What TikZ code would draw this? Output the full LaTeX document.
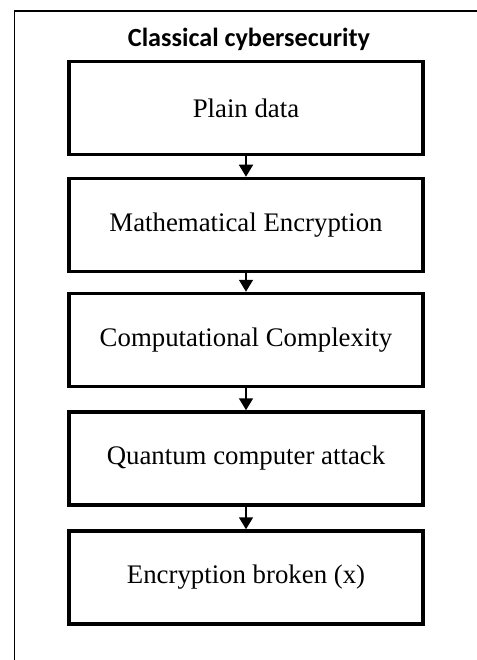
\documentclass[tikz,border=0pt]{standalone}
\usepackage{fontspec}
\setmainfont{Liberation Serif}
\newfontfamily\headfont{Carlito}
\usetikzlibrary{arrows.meta}

\begin{document}
\begin{tikzpicture}[x=1pt,y=-1pt,
  stepbox/.style={draw, line width=3.5pt, minimum width=354pt, minimum height=93pt,
    inner sep=0pt, font=\fontsize{26.8}{30}\selectfont},
  flow/.style={line width=1.6pt, -{Triangle[width=14pt,length=12pt]}}]
  \useasboundingbox (0,0) rectangle (476,660);
  % outer frame, running past the right and lower edges
  \draw[line width=1.8pt] (14.5,661) -- (14.5,11) -- (477,11);
  % heading
  \node (title) at (249,39.5) {\headfont\bfseries\fontsize{26.2}{30}\selectfont Classical cybersecurity};
  % process steps
  \node[stepbox] (b1) at (246,108)   {Plain data};
  \node[stepbox] (b2) at (246,225)   {Mathematical Encryption};
  \node[stepbox] (b3) at (246,340)   {Computational Complexity};
  \node[stepbox] (b4) at (246,458.5) {Quantum computer attack};
  \node[stepbox] (b5) at (246,577.5) {Encryption broken (x)};
  % connectors
  \draw[flow] (b1.south) -- (b2.north);
  \draw[flow] (b2.south) -- (b3.north);
  \draw[flow] (b3.south) -- (b4.north);
  \draw[flow] (b4.south) -- (b5.north);
\end{tikzpicture}
\end{document}
